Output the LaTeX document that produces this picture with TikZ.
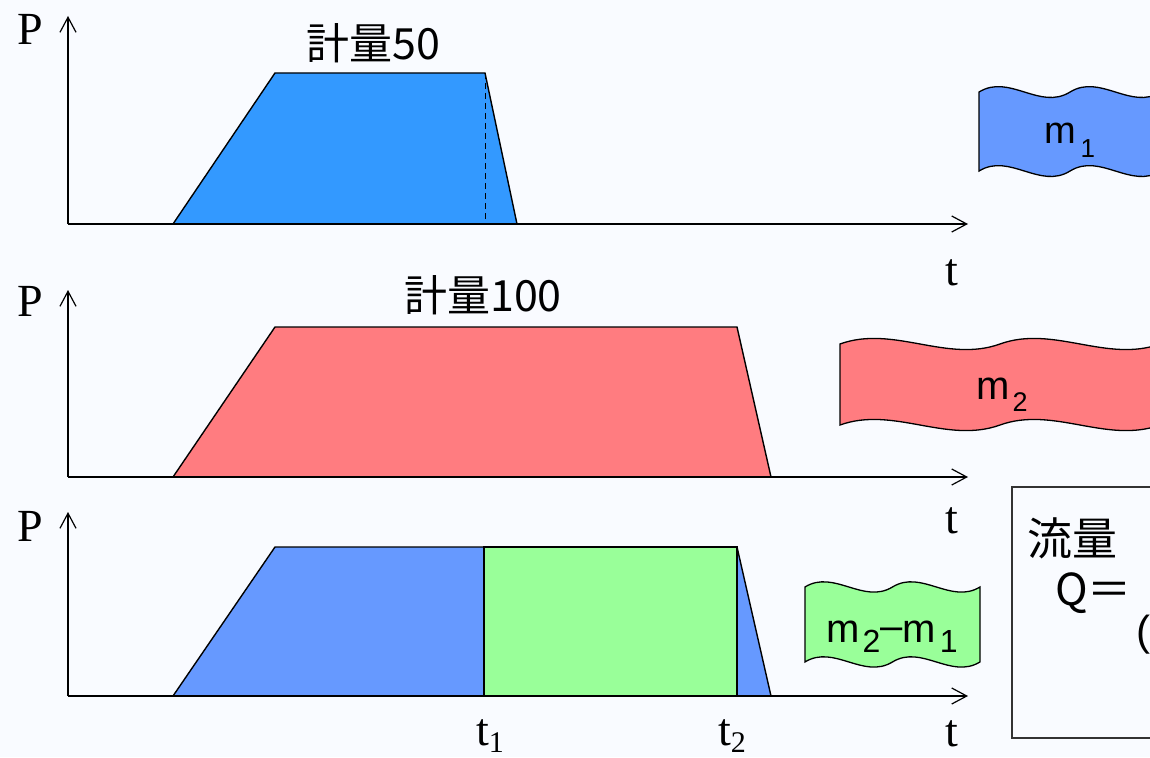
\documentclass[tikz,border=0pt]{standalone}
\usepackage{fontspec}
\setmainfont{Liberation Serif}
\newfontfamily\jpfont{Noto Sans CJK JP}
\newfontfamily\arfont{Liberation Sans}
\usetikzlibrary{arrows.meta}
\definecolor{bgc}{HTML}{F9FBFF}
\definecolor{blueA}{HTML}{3399FF}
\definecolor{blueB}{HTML}{6699FF}
\definecolor{redA}{HTML}{FF7C80}
\definecolor{greenA}{HTML}{99FF99}
\newcommand{\wavebanner}[5]{%
 \pgfmathsetmacro{\wya}{#2+0.0625*#4}%
 \pgfmathsetmacro{\wyb}{#2+0.9375*#4}%
 \pgfmathsetmacro{\wdy}{0.2083*#4}%
 \filldraw[banner,fill=#5] (#1,\wya) .. controls ({#1+#3/6},{\wya-\wdy}) and ({#1+#3/3},{\wya+\wdy}) .. ({#1+#3/2},\wya) .. controls ({#1+2*#3/3},{\wya-\wdy}) and ({#1+5*#3/6},{\wya+\wdy}) .. ({#1+#3},\wya) -- ({#1+#3},\wyb) .. controls ({#1+5*#3/6},{\wyb+\wdy}) and ({#1+2*#3/3},{\wyb-\wdy}) .. ({#1+#3/2},\wyb) .. controls ({#1+#3/3},{\wyb+\wdy}) and ({#1+#3/6},{\wyb-\wdy}) .. (#1,\wyb) -- cycle;%
}
% subscript helper: #1 size, #2 drop, #3 text
\newcommand{\msub}[3]{\raisebox{-#2pt}{\fontsize{#1}{#1}\selectfont #3}}
\begin{document}
\begin{tikzpicture}[x=1pt,y=-1pt,
  axis/.style={line width=1.4pt,-{Straight Barb[length=15pt,width=16pt,line width=1.2pt]}},
  trap/.style={draw=black,line width=1.4pt,line join=miter},
  banner/.style={draw=black,line width=1.3pt},
  serif/.style={font=\fontsize{46}{46}\selectfont,inner sep=0pt,anchor=base},
  jptitle/.style={font=\jpfont\fontsize{43}{43}\selectfont,inner sep=0pt,anchor=base},
  mlabel/.style={font=\arfont\fontsize{40}{40}\selectfont,inner sep=0pt,anchor=base},
  boxtext/.style={font=\jpfont\fontsize{45}{45}\selectfont,inner sep=0pt,anchor=base west}]
\useasboundingbox (0,0) rectangle (1150,757);
\clip (0,0) rectangle (1150,757);
\fill[bgc] (0,0) rectangle (1150,757);
% ---------- panel 1 ----------
\fill[blueA] (173,224) -- (275,73) -- (485,73) -- (517,224) -- cycle;
\draw[trap] (173,224) -- (275,73) -- (485,73) -- (517,224);
\draw[line width=1pt,dash pattern=on 6pt off 4pt] (485,73) -- (485,224);
\coordinate (o1) at (68,224);
\coordinate (ya) at (68,16);
\coordinate (xa) at (968,224);
\draw[axis] (o1) -- (ya);
\draw[axis] (o1) -- (xa);
\node[serif] (P1) at (30,45) {P};
\node[serif] (T1) at (952,285) {t};
\node[jptitle] (title1) at (373,60) {計量50};
% ---------- panel 2 ----------
\fill[redA] (173,477) -- (275,327) -- (737,327) -- (771,477) -- cycle;
\draw[trap] (173,477) -- (275,327) -- (737,327) -- (771,477);
\coordinate (o2) at (68,477);
\coordinate (yb) at (68,290);
\coordinate (xb) at (968,477);
\draw[axis] (o2) -- (yb);
\draw[axis] (o2) -- (xb);
\node[serif] (P2) at (30,316) {P};
\node[serif] (T2) at (952,533) {t};
\node[jptitle] (title2) at (483,311) {計量100};
% ---------- panel 3 ----------
\fill[blueB] (173,696) -- (275,547) -- (737,547) -- (771,696) -- cycle;
\filldraw[fill=greenA,draw=black,line width=1.4pt] (484,547) rectangle (737,696);
\draw[trap] (173,696) -- (275,547) -- (737,547) -- (771,696);
\coordinate (o3) at (68,696);
\coordinate (yc) at (68,512);
\coordinate (xc) at (968,696);
\draw[axis] (o3) -- (yc);
\draw[axis] (o3) -- (xc);
\node[serif] (P3) at (30,541) {P};
\node[serif] (T3) at (952,746) {t};
\node[serif] (tone) at (490,745) {t\msub{30}{7}{1}};
\node[serif] (ttwo) at (732,745) {t\msub{30}{7}{2}};
% ---------- banners ----------
\wavebanner{979}{86.4}{182}{90.3}{blueB}
\node[mlabel,font=\arfont\fontsize{38}{38}\selectfont] (m1) at (1070,143) {m\hspace{4pt}\msub{26}{14}{1}};
\wavebanner{840}{338.2}{320}{92.6}{redA}
\node[mlabel] (m2) at (1002,399) {m\hspace{3pt}\msub{27}{12}{2}};
\wavebanner{805}{581.6}{175}{85.7}{greenA}
\node[mlabel,font=\arfont\fontsize{40}{40}\selectfont] (m21) at (892,642) {m\hspace{3pt}\msub{32}{10}{2}\raisebox{3pt}{–}m\hspace{4pt}\msub{32}{10}{1}};
% ---------- formula box ----------
\draw[line width=1.2pt,draw=black!80] (1012,487) rectangle (1170,738);
\node[boxtext] (flow) at (1027,555) {流量};
\node[boxtext,font=\jpfont\fontsize{44}{44}\selectfont] (qeq) at (1055,605) {Q＝};
\node[boxtext,font=\arfont\fontsize{42}{42}\selectfont] (paren) at (1136,645) {(};
\end{tikzpicture}
\end{document}
